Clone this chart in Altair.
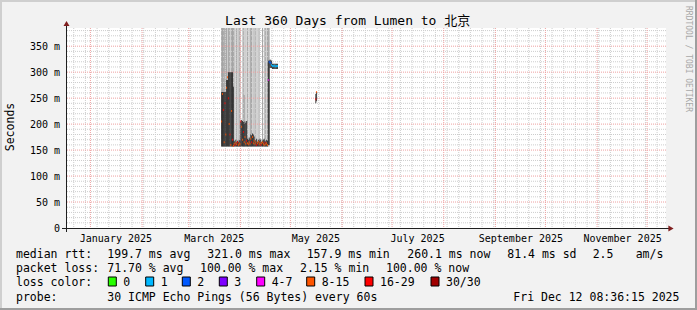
import altair as alt
import pandas as pd

FONT = "DejaVu Sans Mono"

# ---------------- frame of the graph ----------------
t_start = alt.DateTime(year=2024, month=12, date=17, hours=8, minutes=36, seconds=15, utc=True)
t_end = alt.DateTime(year=2025, month=12, date=12, hours=8, minutes=36, seconds=15, utc=True)
y_max = 385
y_major = [50, 100, 150, 200, 250, 300, 350]
y_labels = [0, 50, 100, 150, 200, 250, 300, 350]
x_label_months = [1, 3, 5, 7, 9, 11]

# ---------------- series: 12 h consolidation steps ----------------
step0 = "2025-03-20 12:00"
# smoke tone per step ("mid" darker stripe, "light" pale stripe, None = no smoke)
smoke_tone = (["mid"] * 7 + ["light"] + ["mid"] * 3 + ["light"] + ["mid"] * 3          # k0-14
              + ["mid", "light", "light", "mid", "light", "light", "mid", "mid"]       # k15-22
              + [None, None, "light", "mid", "mid", "mid", "light", "light"]           # k23-30
              + ["mid", "light", None, "mid", "mid", "mid", "light", "light"]          # k31-38
              + ["mid", "light", "mid", "light", "light", "light", "mid", None]        # k39-46
              + [None, None, "mid", None, "light", "mid", "mid", "light"]              # k47-54
              + ["mid", "mid", "mid"]                                                  # k55-57
              + [None] * 10)                                                           # k58-67
smoke_hi = ([400] * 27 + [256] + [400] * 30 + [None] * 10)
smoke_lo = [157] * 58 + [None] * 10
core_hi = ([262, 262, 262, 262, 262, 262, 285, 285, 300, 300, 300, 300, 300, 300, 272]
           + [168, 166, 170, 165, 168, 166, 170, 168]
           + [205, 208, 206, 204, 200, 205, 202, 206]
           + [172, 170, 174, 172]
           + [180, 178, 182, 180, 176]
           + [170, 168, 172, 166, 170, 168, 172, 170, 166, 168, 170, 172, 168, 166, 170, 168, 322]
           + [322]
           + [324, 324, 322, 316, 316, 316, 316, 316, 316, 316])
core_lo = [157] * 56 + [160, 160] + [308] * 3 + [306] * 7
median = ([205, 258, 227, 165, 240, 180, 270, 290, 250, 200, 180, 160, 225, 170, 158]
          + [162, 160, 164, 161, 165, 160, 163, 161]
          + [205, 195, 170, 185, 165, 175, 162, 168]
          + [163, 161, 165, 162]
          + [172, 165, 175, 163, 168]
          + [162, 165, 160, 163, 166, 161, 164, 160, 163, 165, 162, 160, 164, 161, 163, 160, 285]
          + [320]
          + [318, 318, 314, 312, 312, 313, 312, 311, 312, 312])
loss = (["8-15", "8-15", "16-29", "8-15", "16-29", "8-15", "8-15", "8-15", "16-29", "8-15",
         "16-29", "8-15", "8-15", "16-29", "8-15"]
        + ["8-15", "16-29", "8-15", "8-15", "16-29", "8-15", "8-15", "8-15"]
        + ["16-29", "8-15", "8-15", "16-29", "8-15", "8-15", "8-15", "16-29"]
        + ["8-15", "8-15", "8-15", "8-15"]
        + ["8-15", "16-29", "8-15", "8-15", "8-15"]
        + ["8-15", "8-15", "16-29", "8-15", "8-15", "8-15", "8-15", "16-29", "8-15", "8-15",
           "8-15", "8-15", "16-29", "8-15", "8-15", "8-15", "4-7"]
        + ["2"]
        + ["2", "2", "1", "1", "1", "1", "1", "1", "1", "1"])

# short reappearance in May
blip_start = ["2025-05-16 00:00", "2025-05-16 12:00"]
blip_core_lo = [240, 244]
blip_core_hi = [258, 262]
blip_median = [248, 262]
blip_loss = ["16-29", "8-15"]

# ---------------- legend texts ----------------
loss_labels = ["0", "1", "2", "3", "4-7", "8-15", "16-29", "30/30"]
loss_colors = ["#26ff00", "#00b8ff", "#0059ff", "#7e00ff", "#ff00ff", "#ff5500", "#ff0000", "#a10000"]
title_text = "Last 360 Days from Lumen to 北京"
rtt_head = "median rtt:"
rtt_stats = ["199.7 ms avg", "321.0 ms max", "157.9 ms min", "260.1 ms now", "81.4 ms sd", "2.5", "am/s"]
loss_head = "packet loss:"
loss_stats = ["71.70 % avg", "100.00 % max", "2.15 % min", "100.00 % now"]
color_head = "loss color:"
probe_head = "probe:"
probe_text = "30 ICMP Echo Pings (56 Bytes) every 60s"
stamp_text = "Fri Dec 12 08:36:15 2025"
watermark = "RRDTOOL / TOBI OETIKER"

# ---------------- layout (pixels relative to plot origin) ----------------
rtt_x = [41.3, 141.3, 240.7, 341.3, 441.3, 526.7, 569.7]
loss_x = [41.3, 134, 234, 320]
box_x = [42.3, 79.7, 116.3, 153.3, 190.7, 240.7, 299, 365]
head_x = -50
row_y = [230.3, 244.3, 258.3, 272.5]

# ---------------- tables ----------------
def iso(ts):
    return ts.strftime("%Y-%m-%dT%H:%M:%SZ")

t0 = [pd.Timestamp(step0) + pd.Timedelta(hours=12 * k) for k in range(len(median))]
main = pd.DataFrame({
    "t0": [iso(t) for t in t0],
    "t1": [iso(t + pd.Timedelta(hours=12)) for t in t0],
    "hi": smoke_hi, "lo": smoke_lo, "tone": smoke_tone,
    "chi": core_hi, "clo": core_lo, "med": median, "loss": loss,
})
b0 = [pd.Timestamp(s) for s in blip_start]
blip = pd.DataFrame({
    "t0": [iso(t) for t in b0],
    "t1": [iso(t + pd.Timedelta(hours=12)) for t in b0],
    "chi": blip_core_hi, "clo": blip_core_lo, "med": blip_median, "loss": blip_loss,
})
series = pd.concat([main, blip], ignore_index=True)

weeks = pd.DataFrame({"t": [iso(t) for t in pd.date_range("2024-12-22", "2025-12-12", freq="7D")]})
months = pd.DataFrame({"t": [iso(t) for t in pd.date_range("2025-01-01", "2025-12-01", freq="MS")]})
minor_y = pd.DataFrame({"v": [v for v in range(10, 390, 10) if v % 50 != 0]})
major_y = pd.DataFrame({"v": y_major})

xs = alt.Scale(type="utc", domain=[t_start, t_end])
ys = alt.Scale(domain=[0, y_max], nice=False, zero=False, clamp=True)
loss_scale = alt.Scale(domain=loss_labels, range=loss_colors)

x_axis = alt.Axis(
    values=[alt.DateTime(year=2025, month=m, date=16, utc=True) for m in x_label_months],
    labelExpr="utcFormat(datum.value, '%B %Y')", ticks=False, tickSize=0, domain=False,
    grid=False, labelFont=FONT, labelFontSize=10, labelColor="#000000", labelPadding=13.5,
    labelBaseline="alphabetic", labelAlign="center", labelFlush=False, labelOverlap=False, title=None)
y_axis = alt.Axis(
    values=y_labels, labelExpr="datum.value == 0 ? '0\u00a0\u00a0' : datum.value + ' m'",
    ticks=False, tickSize=0, domain=False, grid=False, labelFont=FONT, labelFontSize=10,
    labelColor="#000000", labelPadding=6.5, labelBaseline="middle", labelAlign="right",
    title="Seconds", titleFont=FONT, titleFontSize=11.5, titleFontWeight="normal",
    titleColor="#000000", titleAngle=270, titleX=-55.5, titleY=98.5, titleAlign="center",
    titleBaseline="middle")


def X(field):
    return alt.X(field, scale=xs, axis=x_axis)


def Y(field):
    return alt.Y(field, scale=ys, axis=y_axis)


one = pd.DataFrame({"a": [0]})
MINOR_C = "#cdcdcd"
MAJOR_C = "#eea0a0"

grid_w = alt.Chart(weeks).mark_rule(color=MINOR_C, strokeDash=[1, 1], strokeWidth=1).encode(x=X("t:T"))
grid_h = alt.Chart(minor_y).mark_rule(color=MINOR_C, strokeDash=[1, 1], strokeWidth=1).encode(y=Y("v:Q"))
grid_m = alt.Chart(months).mark_rule(color=MAJOR_C, strokeDash=[1, 1], strokeWidth=1).encode(x=X("t:T"))
grid_mh = alt.Chart(major_y).mark_rule(color=MAJOR_C, strokeDash=[1, 1], strokeWidth=1).encode(y=Y("v:Q"))

smoke = alt.Chart(series).transform_filter("isValid(datum.hi) && isValid(datum.tone)").mark_rect().encode(
    x=X("t0:T"), x2="t1:T", y=Y("lo:Q"), y2="hi:Q",
    color=alt.Color("tone:N", scale=alt.Scale(domain=["light", "mid"], range=["#cccccc", "#969696"]),
                    legend=None))
core = alt.Chart(series).mark_rect(color="#222222").encode(
    x=X("t0:T"), x2="t1:T", y=Y("clo:Q"), y2="chi:Q")
med = alt.Chart(series).mark_rule(strokeWidth=2).encode(
    x=X("t0:T"), x2="t1:T", y=Y("med:Q"),
    color=alt.Color("loss:N", scale=loss_scale, legend=None))

AXIS_C = "#1f1f1f"
ARROW_C = "#801f1f"
decor = []
decor.append(alt.Chart(one).mark_rule(color=AXIS_C, strokeWidth=1).encode(
    x=alt.value(-4), x2=alt.value(603), y=alt.value(200.5)))
decor.append(alt.Chart(one).mark_rule(color=AXIS_C, strokeWidth=1).encode(
    x=alt.value(0.5), y=alt.value(-2), y2=alt.value(204)))
decor.append(alt.Chart(one).mark_point(shape="triangle-up", filled=True, size=36, color=ARROW_C,
                                       opacity=1).encode(x=alt.value(0.5), y=alt.value(-4.5)))
decor.append(alt.Chart(one).mark_point(shape="triangle-right", filled=True, size=36, color=ARROW_C,
                                       opacity=1).encode(x=alt.value(605), y=alt.value(200.5)))
# border of the whole image
for (x0, x1, y0, y1, c) in [(-66, 631, -28, -26, "#cfcfcf"), (-66, -64, -28, 282, "#cfcfcf"),
                            (-66, 631, 280, 282, "#9e9e9e"), (629, 631, -28, 282, "#9e9e9e")]:
    decor.append(alt.Chart(one).mark_rect(color=c).encode(
        x=alt.value(x0), x2=alt.value(x1), y=alt.value(y0), y2=alt.value(y1)))


def text_at(txt, px, py, size=11.5, align="left", color="#000000", angle=0):
    return alt.Chart(one).mark_text(font=FONT + ", Noto Sans CJK SC", fontSize=size, align=align,
                                    baseline="alphabetic", color=color, angle=angle).encode(
        x=alt.value(px), y=alt.value(py), text=alt.value(txt))


texts = [text_at(title_text, 281.7, -3, size=13, align="center")]
for h, yy in zip([rtt_head, loss_head, color_head, probe_head], row_y):
    texts.append(text_at(h, head_x, yy))
for s, px in zip(rtt_stats, rtt_x):
    texts.append(text_at(s, px, row_y[0]))
for s, px in zip(loss_stats, loss_x):
    texts.append(text_at(s, px, row_y[1]))
texts.append(text_at(probe_text, 41.3, row_y[3]))
texts.append(text_at(stamp_text, 447.3, row_y[3]))
for lab, col, bx in zip(loss_labels, loss_colors, box_x):
    texts.append(alt.Chart(one).mark_rect(stroke="#000000", strokeWidth=1, color=col).encode(
        x=alt.value(bx), x2=alt.value(bx + 8), y=alt.value(249), y2=alt.value(258)))
    texts.append(text_at(lab, bx + 15, row_y[2]))
texts.append(text_at(watermark, 619.5, 31, size=8, align="center", color="#a8a8a8", angle=90))

chart = alt.layer(
    smoke, grid_w, grid_h, grid_m, grid_mh, core, med, *decor, *texts,
).resolve_scale(color="independent").properties(
    width=600, height=200,
    autosize=alt.AutoSizeParams(type="none"),
    padding={"left": 66, "top": 28, "right": 31, "bottom": 82},
    background="#f2f2f2",
).configure_view(fill="white", stroke=None)

chart.save("out.html", embed_options={"renderer": "svg", "actions": False})
